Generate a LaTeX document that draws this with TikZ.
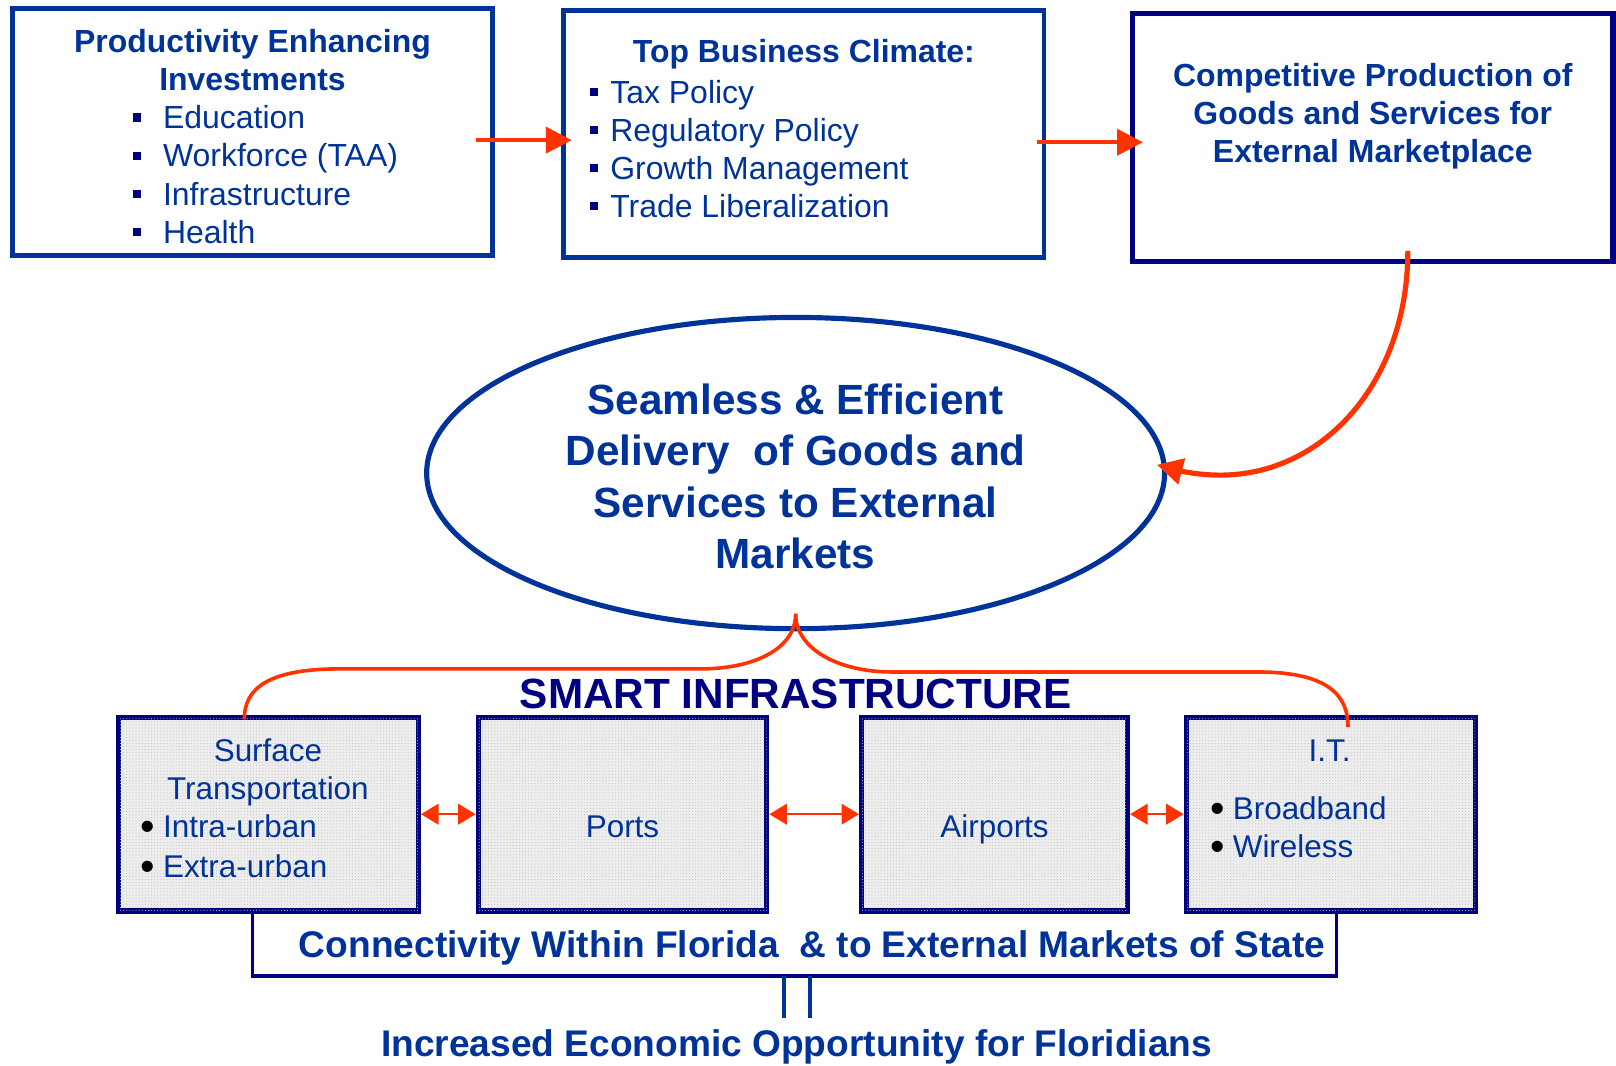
\documentclass[tikz,border=0pt]{standalone}
\usepackage{fontspec}
\setmainfont{Liberation Sans}
\usetikzlibrary{arrows.meta,patterns,shapes.geometric}

\definecolor{txtblue}{RGB}{0,51,153}
\definecolor{navy}{RGB}{0,0,128}
\definecolor{arrred}{RGB}{255,51,0}
\newcommand{\sqbul}{\textcolor{navy}{\rule[7pt]{8pt}{8pt}}}
\newcommand{\dotbul}{\textcolor{black}{\raisebox{-3pt}{\fontsize{40}{40}\selectfont•}}\hspace{8pt}}

\begin{document}
\begin{tikzpicture}[x=1pt,y=-1pt,
    topbox/.style={draw=#1,line width=4.5pt,inner sep=0pt,minimum width=466pt,minimum height=240pt},
    infbox/.style={draw=navy,line width=5pt,inner sep=0pt,minimum height=188pt,fill=black!7,
        postaction={pattern=dots,pattern color=black!25}},
    head/.style={text=txtblue,font=\fontsize{31}{37}\selectfont\bfseries,align=center,anchor=base},
    item/.style={text=txtblue,font=\fontsize{31}{37}\selectfont,inner sep=0pt,anchor=base west},
    low/.style={text=txtblue,font=\fontsize{30.5}{37}\selectfont,inner sep=0pt,anchor=base},
    lowitem/.style={low,anchor=base west},
    conn/.style={text=txtblue,font=\fontsize{36}{42}\selectfont\bfseries,anchor=base},
    redarrow/.style={draw=arrred,line width=4pt,-{Triangle[length=25pt,width=25pt]}},
    dblarrow/.style={draw=arrred,line width=2pt,{Triangle[length=17pt,width=20pt]}-{Triangle[length=17pt,width=20pt]}},
    redline/.style={draw=arrred,line width=3.5pt},
    bracket/.style={draw=navy,line width=3pt}]
    \useasboundingbox (0,0) rectangle (1568,1033.4);

    % top row
    \node[topbox=txtblue] (invest) at (245,128) {};
    \node[head] (investT) at (245,88) {Productivity Enhancing\\Investments};
    \foreach \t [count=\i] in {Education,Workforce (TAA),Infrastructure,Health}
        \node[item] (invest\i) at (129,{88+37*\i}) {\sqbul\hspace{21pt}\t};

    \node[topbox=txtblue] (climate) at (780,130) {};
    \node[head] (climateT) at (780,61) {Top Business Climate:};
    \foreach \t [count=\i] in {Tax Policy,Regulatory Policy,Growth Management,Trade Liberalization}
        \node[item] (climate\i) at (572,{63+37*\i}) {\sqbul\hspace{12pt}\t};

    \node[topbox=navy,line width=5pt] (compete) at (1332,133.5) {};
    \node[head] (competeT) at (1332,158) {Competitive Production of\\Goods and Services for\\External Marketplace};

    \draw[redarrow] ([shift={(-18,8)}]invest.east) -- ([shift={(10,6)}]climate.west);
    \draw[redarrow] ([shift={(-9,8)}]climate.east) -- ([shift={(12.5,4.5)}]compete.west);

    % delivery
    \node[ellipse,draw=txtblue,line width=5pt,minimum width=716pt,minimum height=302pt,inner sep=0pt] (deliver) at (772,459) {};
    \node[text=txtblue,font=\fontsize{41}{50}\selectfont\bfseries,align=center,anchor=base] (deliverT) at (772,552)
        {Seamless \& Efficient\\Delivery~ of Goods and\\Services to External\\Markets};
    \draw[redarrow,line width=5pt] ([shift={(34,-12.5)}]compete.south) .. controls +(0,126) and +(101,0) .. (1184,461)
        .. controls +(-24,0) and +(19,5) .. ([shift={(-10,-8)}]deliver.east);

    % smart infrastructure
    \node[text=navy,font=\fontsize{41}{48}\selectfont\bfseries,anchor=base] (smart) at (772,687) {SMART INFRASTRUCTURE};

    \node[infbox,minimum width=291pt] (surf) at (260.5,790) {};
    \node[infbox,minimum width=280pt] (ports) at (604,790) {};
    \node[infbox,minimum width=258pt] (air) at (965,790) {};
    \node[infbox,minimum width=281pt] (it) at (1291.5,790) {};

    \node[low] (surfT) at (260,739) {Surface};
    \node[low] (surfT2) at (260,776) {Transportation};
    \node[lowitem] (surf1) at (136,813) {\dotbul Intra-urban};
    \node[lowitem] (surf2) at (136,851) {\dotbul Extra-urban};
    \node[low] (portsT) at (604,813) {Ports};
    \node[low] (airT) at (965,813) {Airports};
    \node[low] (itT) at (1290,739) {I.T.};
    \node[lowitem] (it1) at (1174,795) {\dotbul Broadband};
    \node[lowitem] (it2) at (1174,832) {\dotbul Wireless};

    \draw[dblarrow] (surf.east) -- (ports.west);
    \draw[dblarrow] (ports.east) -- (air.west);
    \draw[dblarrow] (air.east) -- (it.west);

    \draw[redline] ([shift={(0,-17)}]deliver.south) .. controls +(0,35) and +(50,0) .. (680,649)
        -- (330,649) .. controls +(-70,0) and +(0,-30) .. ([shift={(-23.5,4.5)}]surf.north);
    \draw[redline] ([shift={(0,-17)}]deliver.south) .. controls +(0,35) and +(-50,0) .. (865,652)
        -- (1220,652) .. controls +(70,0) and +(0,-30) .. ([shift={(16.5,12)}]it.north);

    % connectivity
    \draw[bracket] ([xshift=-15.5pt]surf.south) |- ([shift={(5.5,60.5)}]it.south) -- ([xshift=5.5pt]it.south);
    \node[conn] (connect) at (788,929) {Connectivity Within Florida~ \& to External Markets of State};
    \foreach \x in {761,786}
        \draw[bracket,draw=txtblue,line width=4pt] (\x,947) -- (\x,988);
    \node[conn] (oppor) at (773,1025) {Increased Economic Opportunity for Floridians};
\end{tikzpicture}
\end{document}
